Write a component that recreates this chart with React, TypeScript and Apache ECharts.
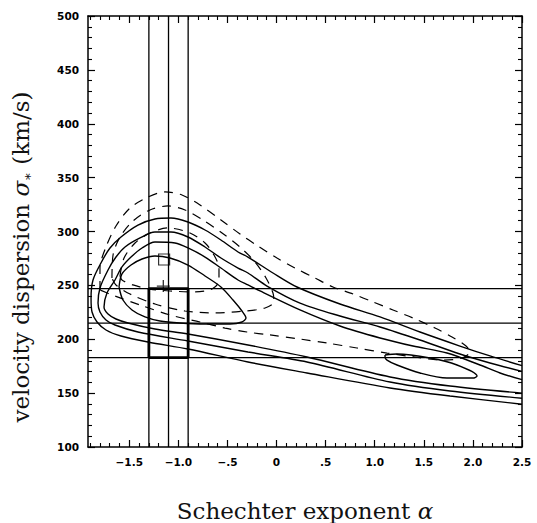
import React, { useEffect, useRef } from "react";
import * as echarts from "echarts";

// ---- axis ranges and ticks ----
const X_MIN = -1.92;
const X_MAX = 2.5;
const Y_MIN = 100;
const Y_MAX = 500;
const xMajorTicks = [-1.5, -1.0, -0.5, 0, 0.5, 1.0, 1.5, 2.0, 2.5];
const xTickLabels = ["\u22121.5", "\u22121.0", "\u2212.5", "0", ".5", "1.0", "1.5", "2.0", "2.5"];
const xMinorTicks = [
  -1.9, -1.8, -1.7, -1.6, -1.4, -1.3, -1.2, -1.1, -0.9, -0.8, -0.7, -0.6, -0.4, -0.3, -0.2, -0.1,
  0.1, 0.2, 0.3, 0.4, 0.6, 0.7, 0.8, 0.9, 1.1, 1.2, 1.3, 1.4, 1.6, 1.7, 1.8, 1.9, 2.1, 2.2, 2.3, 2.4,
];
const Y_INTERVAL = 50;

// ---- reference lines ----
const alphaLines = [-1.3, -1.1, -0.9];
const sigmaLines = [247, 215, 183];
const boxAlpha = [-1.3, -0.9];
const boxSigma = [183, 247];
const squareMarker = [-1.145, 274];
const plusMarker = [-1.153, 249.4];

// ---- solid contours [alpha, sigma] ----
const solidInner = [
  [-1.604, 248.5], [-1.574, 260.6], [-1.482, 268.9], [-1.37, 274.5], [-1.238, 277.3], [-1.085, 275.4],
  [-0.902, 268.9], [-0.728, 258.7], [-0.566, 248.5], [-0.443, 236.4], [-0.352, 226.2], [-0.311, 219.7],
  [-0.352, 216.0], [-0.474, 214.2], [-0.728, 214.2], [-0.983, 215.1], [-1.187, 216.9], [-1.34, 220.7],
  [-1.472, 227.2], [-1.564, 236.4], [-1.604, 248.5],
];
const solidIsland = [
  [1.105, 185.4], [1.227, 186.3], [1.563, 182.6], [1.838, 176.1], [2.042, 165.9], [2.001, 164.0],
  [1.736, 164.0], [1.461, 168.7], [1.227, 176.1], [1.125, 180.7], [1.105, 183.5], [1.105, 185.4],
];
const solidC = [
  [2.5, 162.5], [2.276, 168.7], [2.072, 176.1], [1.736, 187.2], [1.39, 193.7], [1.054, 201.2],
  [0.646, 212.3], [0.239, 227.2], [-0.168, 244.8], [-0.291, 250.4], [-0.392, 255.0], [-0.566, 266.1],
  [-0.728, 276.3], [-0.902, 284.7], [-1.034, 289.3], [-1.238, 290.3], [-1.37, 284.7], [-1.482, 276.3],
  [-1.574, 267.1], [-1.645, 255.0], [-1.727, 242.9], [-1.757, 229.9], [-1.716, 223.4], [-1.635, 218.8],
  [-1.513, 215.1], [-1.238, 209.5], [-0.902, 204.9], [-0.291, 194.7], [0.31, 183.5], [1.156, 165.0],
  [1.767, 156.6], [2.5, 150.0],
];
const solidB = [
  [2.5, 170.2], [2.174, 178.0], [1.868, 186.3], [1.461, 199.3], [1.054, 211.4], [0.646, 221.6],
  [0.239, 233.6], [-0.097, 249.4], [-0.291, 261.5], [-0.392, 266.1], [-0.566, 275.4], [-0.728, 285.6],
  [-0.902, 294.9], [-1.075, 299.5], [-1.238, 299.5], [-1.39, 294.0], [-1.543, 285.6], [-1.635, 276.3],
  [-1.716, 264.3], [-1.798, 247.6], [-1.818, 233.6], [-1.798, 225.3], [-1.737, 217.9], [-1.645, 213.2],
  [-1.411, 206.7], [-0.902, 198.4], [-0.291, 188.2], [0.31, 178.9], [1.156, 160.3], [1.767, 152.0],
  [2.5, 145.3],
];
const solidA = [
  [2.5, 175.5], [2.174, 184.5], [1.868, 193.7], [1.461, 206.7], [1.054, 220.7], [0.646, 232.7],
  [0.208, 248.5], [-0.036, 261.5], [-0.291, 276.3], [-0.392, 281.0], [-0.566, 292.1], [-0.728, 301.4],
  [-0.902, 308.8], [-1.075, 312.5], [-1.238, 311.6], [-1.411, 306.0], [-1.584, 294.9], [-1.696, 284.7],
  [-1.788, 270.8], [-1.869, 255.0], [-1.889, 238.3], [-1.879, 225.3], [-1.828, 216.0], [-1.737, 208.6],
  [-1.584, 203.0], [-1.309, 197.4], [-0.902, 190.9], [-0.291, 178.9], [0.31, 168.7], [1.156, 154.8],
  [1.767, 147.3], [2.5, 139.7],
];

// ---- dashed contours [alpha, sigma] ----
const dashedInner = [
  [-1.594, 258.7], [-1.553, 275.4], [-1.441, 289.3], [-1.289, 298.6], [-1.105, 303.3], [-0.881, 298.6],
  [-0.728, 289.3], [-0.637, 278.2], [-0.586, 266.1], [-0.586, 254.1], [-0.657, 246.6], [-0.83, 243.9],
  [-1.085, 244.8], [-1.289, 246.6], [-1.462, 250.4], [-1.574, 255.0], [-1.594, 258.7],
];
const dashedMiddle = [
  [-1.676, 256.8], [-1.665, 278.2], [-1.594, 294.9], [-1.462, 309.7], [-1.289, 320.0], [-1.105, 323.7],
  [-0.932, 320.0], [-0.749, 310.7], [-0.555, 298.6], [-0.372, 285.6], [-0.219, 271.7], [-0.107, 256.8],
  [-0.036, 242.9], [-0.026, 234.6], [-0.117, 229.0], [-0.321, 226.2], [-0.627, 224.4], [-0.932, 226.2],
  [-1.238, 232.7], [-1.492, 242.0], [-1.635, 250.4], [-1.676, 256.8],
];
const dashedOuter = [
  [-1.798, 245.7], [-1.798, 266.1], [-1.737, 285.6], [-1.635, 305.1], [-1.492, 321.8], [-1.309, 332.0],
  [-1.136, 336.7], [-0.963, 333.9], [-0.779, 324.6], [-0.566, 310.7], [-0.372, 297.7], [-0.189, 286.5],
  [0.005, 275.4], [0.188, 266.1], [0.392, 256.8], [0.575, 248.5], [0.779, 242.0], [0.982, 234.6],
  [1.186, 227.2], [1.39, 219.7], [1.614, 210.4], [1.787, 202.1], [1.93, 193.7], [1.97, 188.2],
  [1.889, 182.6], [1.695, 180.7], [1.41, 183.5], [1.125, 187.2], [0.819, 191.9], [0.514, 196.5],
  [0.239, 200.2], [-0.066, 204.0], [-0.301, 206.7], [-0.525, 210.4], [-0.779, 216.0], [-1.085, 222.5],
  [-1.39, 231.8], [-1.645, 240.1], [-1.798, 245.7],
];

const LABEL_FONT = { fontFamily: "DejaVu Sans", fontWeight: "bold" as const, fontSize: 10.5, color: "#000" };
const TITLE_FONT = "DejaVu Serif";

function xLabel(v: number): string {
  const i = xMajorTicks.findIndex((t) => Math.abs(t - v) < 1e-6);
  return i >= 0 ? xTickLabels[i] : "";
}

export default function App() {
  const ref = useRef<HTMLDivElement>(null);
  useEffect(() => {
    if (!ref.current) return;
    const chart = echarts.init(ref.current, undefined, { renderer: "svg" });

    const solid = (data: number[][]) => ({
      type: "line", data, showSymbol: false, smooth: 0.3, silent: true,
      lineStyle: { color: "#000", width: 1.4 },
    });
    const dashed = (data: number[][]) => ({
      type: "line", data, showSymbol: false, smooth: 0.3, silent: true,
      lineStyle: { color: "#000", width: 1.2, type: [9, 7] },
    });
    const straight = (data: number[][], width: number) => ({
      type: "line", data, showSymbol: false, silent: true,
      lineStyle: { color: "#000", width },
    });

    const series: any[] = [
      solid(solidA), solid(solidB), solid(solidC), solid(solidInner), solid(solidIsland),
      dashed(dashedOuter), dashed(dashedMiddle), dashed(dashedInner),
      ...alphaLines.map((a) => straight([[a, Y_MIN], [a, Y_MAX]], 1.3)),
      ...sigmaLines.map((s) => straight([[X_MIN, s], [X_MAX, s]], 1.3)),
      straight(
        [
          [boxAlpha[0], boxSigma[0]], [boxAlpha[1], boxSigma[0]], [boxAlpha[1], boxSigma[1]],
          [boxAlpha[0], boxSigma[1]], [boxAlpha[0], boxSigma[0]],
        ],
        2.8
      ),
      {
        type: "scatter", data: [squareMarker], symbol: "rect", symbolSize: 11, silent: true,
        itemStyle: { color: "rgba(0,0,0,0)", borderColor: "#000", borderWidth: 1.2 },
      },
      {
        type: "scatter", data: [plusMarker], symbol: "path://M6,0L6,12M0,6L12,6", symbolSize: [13, 12],
        silent: true, itemStyle: { color: "none", borderColor: "#000", borderWidth: 1.3 },
      },
    ];

    const xBase = { type: "value", min: X_MIN, max: X_MAX, splitLine: { show: false } };
    const yBase = { type: "value", min: Y_MIN, max: Y_MAX, interval: Y_INTERVAL, splitLine: { show: false } };
    const axisLine = { show: true, onZero: false, lineStyle: { color: "#000", width: 1.5 } };

    chart.setOption({
      animation: false,
      backgroundColor: "#fff",
      grid: { left: 88, top: 16, width: 434, height: 431, containLabel: false },
      xAxis: [
        {
          ...xBase, position: "bottom", axisLine,
          axisTick: { show: true, inside: true, length: 7, customValues: xMajorTicks, lineStyle: { color: "#000", width: 1.2 } },
          axisLabel: { show: true, margin: 9, customValues: xMajorTicks, formatter: (v: number) => xLabel(v), ...LABEL_FONT },
        },
        {
          ...xBase, position: "bottom", axisLine: { show: false, onZero: false },
          axisTick: { show: true, inside: true, length: 4, customValues: xMinorTicks, lineStyle: { color: "#000", width: 1.1 } },
          axisLabel: { show: false },
        },
        {
          ...xBase, position: "top", axisLine,
          axisTick: { show: true, inside: true, length: 7, customValues: xMajorTicks, lineStyle: { color: "#000", width: 1.2 } },
          axisLabel: { show: false },
        },
        {
          ...xBase, position: "top", axisLine: { show: false, onZero: false },
          axisTick: { show: true, inside: true, length: 4, customValues: xMinorTicks, lineStyle: { color: "#000", width: 1.1 } },
          axisLabel: { show: false },
        },
      ],
      yAxis: [
        {
          ...yBase, position: "left", axisLine,
          axisTick: { show: true, inside: true, length: 7, lineStyle: { color: "#000", width: 1.2 } },
          minorTick: { show: true, splitNumber: 5, length: 4, lineStyle: { color: "#000", width: 1.1 } },
          axisLabel: { show: true, margin: 9, ...LABEL_FONT },
        },
        {
          ...yBase, position: "right", axisLine,
          axisTick: { show: true, inside: true, length: 7, lineStyle: { color: "#000", width: 1.2 } },
          minorTick: { show: true, splitNumber: 5, length: 4, lineStyle: { color: "#000", width: 1.1 } },
          axisLabel: { show: false },
        },
      ],
      graphic: [
        {
          type: "text", x: 305, y: 511, silent: true,
          style: {
            text: "{r|Schechter exponent }{i|\u03b1}",
            align: "center", verticalAlign: "middle",
            rich: {
              r: { fontFamily: TITLE_FONT, fontSize: 23, fill: "#111" },
              i: { fontFamily: TITLE_FONT, fontSize: 23, fontStyle: "italic", fill: "#111" },
            },
          },
        },
        {
          type: "text", x: 21, y: 257, rotation: Math.PI / 2, silent: true,
          style: {
            text: "{r|velocity dispersion }{i|\u03c3}{s|\u2217}{r| (km/s)}",
            align: "center", verticalAlign: "middle",
            rich: {
              r: { fontFamily: TITLE_FONT, fontSize: 23, fill: "#111" },
              i: { fontFamily: TITLE_FONT, fontSize: 23, fontStyle: "italic", fill: "#111" },
              s: { fontFamily: TITLE_FONT, fontSize: 13, fill: "#111", padding: [12, 0, 0, 0] },
            },
          },
        },
      ],
      series: series.map((s) => ({ ...s, xAxisIndex: 0, yAxisIndex: 0 })),
    });
    return () => chart.dispose();
  }, []);
  return <div ref={ref} style={{ position: "fixed", left: 0, top: 0, width: 537, height: 523 }} />;
}
